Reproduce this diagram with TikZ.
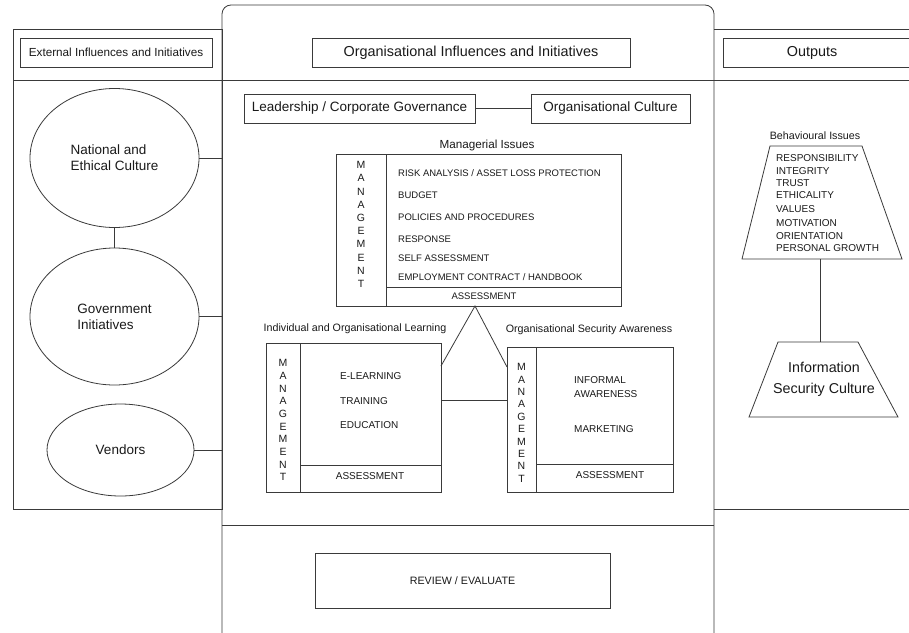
\documentclass[tikz,border=0pt]{standalone}
\usepackage{fontspec}
\setmainfont{Liberation Sans}
\usetikzlibrary{shapes.geometric}
\definecolor{ln}{HTML}{3A3A3A}
\definecolor{tx}{HTML}{1A1A1A}
\tikzset{
  every node/.style={text=tx, inner sep=0pt},
  ln/.style={draw=ln, line width=0.8pt},
  boxn/.style={ln, rectangle},
  ell/.style={ln, ellipse},
  fH/.style={font=\fontsize{14.4}{17}\selectfont},
  fL/.style={font=\fontsize{13.5}{16}\selectfont},
  fE/.style={font=\fontsize{11.7}{14}\selectfont},
  fM/.style={font=\fontsize{11.2}{13}\selectfont},
  fS/.style={font=\fontsize{10.7}{13}\selectfont},
  fC/.style={font=\fontsize{9.5}{11}\selectfont},
  fB/.style={font=\fontsize{10}{12}\selectfont},
  fK/.style={font=\fontsize{10.5}{12}\selectfont},
}
\begin{document}
\begin{tikzpicture}[x=1pt,y=-1pt]
\useasboundingbox (0,0) rectangle (909,632);
\clip (0,0) rectangle (909,632);
\fill[white] (0,0) rectangle (909,632);

% panels
\draw[ln] (13,29) rectangle (222,509);
\draw[ln, rounded corners=9pt] (222,640) -- (222,5) -- (714,5) -- (714,640);
\draw[ln] (714,29) -- (915,29);
\draw[ln] (714,509) -- (915,509);
\draw[ln] (13,80) -- (915,80);
\draw[ln] (222,525) -- (714,525);

% headers
\node[boxn, fE, minimum width=192, minimum height=29] (ext) at (116,52.5) {External Influences and Initiatives};
\node[boxn, fH, minimum width=318, minimum height=29] (org) at (471,52.5) {Organisational Influences and Initiatives};
\draw[ln] (930,38) -- (723,38) -- (723,67) -- (930,67);
\node[fH] (out) at (812,52.5) {Outputs};

% left ellipses
\node[ell, fL, minimum width=169, minimum height=139, align=left] (nat) at (114.5,158) {National and\\Ethical Culture};
\node[ell, fL, minimum width=169, minimum height=137, align=left] (gov) at (114.5,316.5) {Government\\Initiatives};
\node[ell, fL, minimum width=147, minimum height=92] (ven) at (120.5,450) {Vendors};
\coordinate (pn) at (222,158);
\coordinate (pg) at (222,316.5);
\coordinate (pv) at (222,450);
\draw[ln] (nat.south) -- (gov.north);
\draw[ln] (nat.east) -- (pn);
\draw[ln] (gov.east) -- (pg);
\draw[ln] (ven.east) -- (pv);

% leadership / culture
\node[boxn, fL, minimum width=231, minimum height=29] (lead) at (359.5,108.5) {Leadership / Corporate Governance};
\node[boxn, fL, minimum width=159, minimum height=29] (cult) at (610.5,108.5) {Organisational Culture};
\draw[ln] (lead.east) -- (cult.west);

% managerial issues
\node[fE] (mgl) at (487,145) {Managerial Issues};
\node[boxn, minimum width=285, minimum height=152] (mgr) at (478.5,230) {};
\draw[ln] (386,154) -- (386,306);
\draw[ln] (386,287) -- (621,287);
\foreach \l [count=\i] in {M,A,N,A,G,E,M,E,N,T}
  \node[fK] (ma\i) at (361,{165+(\i-1)*13.2}) {\l};
\node[fC, anchor=west] (r1) at (398,173) {RISK ANALYSIS / ASSET LOSS PROTECTION};
\node[fC, anchor=west] (r2) at (398,195) {BUDGET};
\node[fC, anchor=west] (r3) at (398,217) {POLICIES AND PROCEDURES};
\node[fC, anchor=west] (r4) at (398,239) {RESPONSE};
\node[fC, anchor=west] (r5) at (398,258) {SELF ASSESSMENT};
\node[fC, anchor=west] (r6) at (398,277) {EMPLOYMENT CONTRACT / HANDBOOK};
\node[fC] (ra) at (484,296) {ASSESSMENT};

% learning
\node[fS] (lrl) at (355,329) {Individual and Organisational Learning};
\node[boxn, minimum width=175, minimum height=149] (lrn) at (353.5,417.5) {};
\draw[ln] (300,343) -- (300,492);
\draw[ln] (300,465) -- (441,465);
\foreach \l [count=\i] in {M,A,N,A,G,E,M,E,N,T}
  \node[fK] (mb\i) at (283,{363+(\i-1)*12.7}) {\l};
\node[fB, anchor=west] (l1) at (340,376) {E-LEARNING};
\node[fB, anchor=west] (l2) at (340,401) {TRAINING};
\node[fB, anchor=west] (l3) at (340,425) {EDUCATION};
\node[fB] (la) at (370,476) {ASSESSMENT};

% awareness
\node[fS] (awl) at (589,330) {Organisational Security Awareness};
\node[boxn, minimum width=166, minimum height=145] (awr) at (590,419.5) {};
\draw[ln] (536,347) -- (536,492);
\draw[ln] (536,464) -- (673,464);
\foreach \l [count=\i] in {M,A,N,A,G,E,M,E,N,T}
  \node[fK] (mc\i) at (521.5,{367+(\i-1)*12.4}) {\l};
\node[fB, anchor=west] (w1) at (574,380) {INFORMAL};
\node[fB, anchor=west] (w2) at (574,394) {AWARENESS};
\node[fB, anchor=west] (w3) at (574,429) {MARKETING};
\node[fB] (wa) at (610,475) {ASSESSMENT};

% triangle and link
\coordinate (apex) at (475,306);
\coordinate (tl) at (441,366);
\coordinate (tr) at (507,367);
\draw[ln] (tl) -- (apex) -- (tr);
\coordinate (ll) at (441,400);
\coordinate (lr) at (507,400);
\draw[ln] (ll) -- (lr);

% review
\node[boxn, fS, minimum width=295, minimum height=55] (rev) at (462.5,580.5) {REVIEW / EVALUATE};

% outputs: behavioural issues
\node[fS] (bhl) at (815,136) {Behavioural Issues};
\draw[ln] (770,146) -- (862,146) -- (902,259) -- (742,259) -- cycle;
\foreach \t/\y [count=\i] in {RESPONSIBILITY/158, INTEGRITY/171, TRUST/183, ETHICALITY/195, VALUES/209, MOTIVATION/223, ORIENTATION/236, PERSONAL GROWTH/248}
  \node[fB, anchor=west] (b\i) at (776,\y) {\t};
\coordinate (bb) at (820,259);
\draw[ln] (778,342) -- (858,342) -- (898,417) -- (749,417) -- cycle;
\coordinate (it) at (820,342);
\draw[ln] (bb) -- (it);
\node[fH, align=center, font=\fontsize{14.3}{20.5}\selectfont] (isc) at (824,379.5) {Information\\Security Culture};
\end{tikzpicture}
\end{document}
